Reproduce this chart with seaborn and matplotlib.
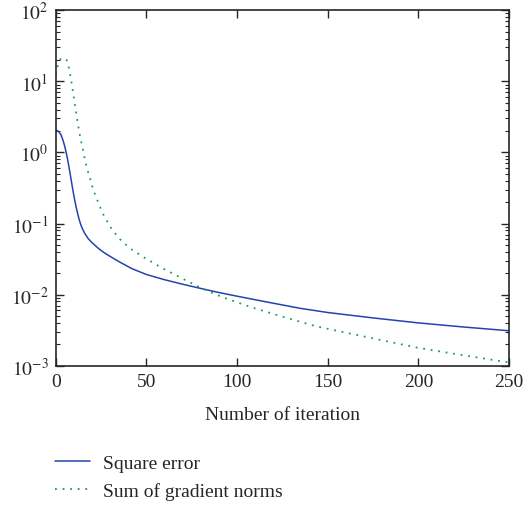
import numpy as np
import pandas as pd
import matplotlib
matplotlib.use("Agg")
import matplotlib.pyplot as plt
import seaborn as sns

# values (iteration, value)
sq_iter = [0, 1, 2, 3, 4, 5, 6, 7, 8, 9, 10, 11, 12, 13, 14, 15, 16, 18, 20, 23,
           26, 30, 35, 42, 50, 60, 70, 80, 90, 100, 115, 135, 150, 175, 200, 225, 250]
sq_err = [2.05, 2.02, 1.92, 1.75, 1.5, 1.22, 0.95, 0.70, 0.50, 0.35, 0.25, 0.185,
          0.142, 0.113, 0.094, 0.082, 0.073, 0.061, 0.054, 0.046, 0.040, 0.0345,
          0.0290, 0.0232, 0.0192, 0.0162, 0.0140, 0.0122, 0.0107, 0.0095, 0.0080,
          0.0064, 0.0056, 0.0047, 0.0040, 0.0035, 0.0031]

gn_iter = [0, 1, 2, 3, 4, 5, 6, 7, 8, 9, 10, 11, 12, 13, 14, 15, 16.5, 18, 19,
           20.7, 23.5, 26, 28, 31, 35.5, 41, 49, 58, 65, 73, 81.4, 91.5, 100, 109,
           125, 144, 170, 199, 225, 250]
gn_norm = [12.5, 16, 19.5, 21, 21.3, 21, 20, 17, 12.5, 8.8, 6.0, 4.0, 2.75, 1.95,
           1.45, 1.1, 0.72, 0.52, 0.43, 0.30, 0.197, 0.138, 0.112, 0.083, 0.060,
           0.0445, 0.033, 0.0242, 0.0195, 0.0153, 0.0120, 0.0093, 0.0078, 0.0065,
           0.0049, 0.00356, 0.00258, 0.0018, 0.0014, 0.00111]

df_sq = pd.DataFrame({"it": sq_iter, "val": sq_err})
df_gn = pd.DataFrame({"it": gn_iter, "val": gn_norm})

sns.set_style("ticks")
plt.rcParams["font.family"] = ["Liberation Serif", "DejaVu Serif"]
plt.rcParams["mathtext.fontset"] = "stix"
plt.rcParams["xtick.direction"] = "in"
plt.rcParams["ytick.direction"] = "in"

fig = plt.figure(figsize=(5.25, 5.1), dpi=100)
ax = fig.add_axes([0.106, 0.281, 0.8635, 0.697])

sns.lineplot(data=df_sq, x="it", y="val", ax=ax, color="#2443b0", lw=1.1,
             label="Square error")
sns.lineplot(data=df_gn, x="it", y="val", ax=ax, color="#1b9a5c", lw=1.3,
             linestyle=(0, (1, 3.2)), label="Sum of gradient norms")

ax.set_yscale("log")
ax.set_xlim(0, 250)
ax.set_ylim(1e-3, 1e2)
ax.set_xticks([0, 50, 100, 150, 200, 250])
ax.set_yticks([1e-3, 1e-2, 1e-1, 1e0, 1e1, 1e2])
ax.set_yticklabels([r"$10^{-3}$", r"$10^{-2}$", r"$10^{-1}$", r"$10^{0}$",
                    r"$10^{1}$", r"$10^{2}$"])
ax.tick_params(which="both", top=True, right=True, labelsize=14, pad=5)
ax.tick_params(which="major", length=6, width=1)
ax.tick_params(which="minor", length=3, width=0.8)
ax.minorticks_on()
ax.xaxis.set_minor_locator(matplotlib.ticker.NullLocator())
for s in ax.spines.values():
    s.set_linewidth(1.2)

ax.set_xlabel("Number of iteration", fontsize=14, labelpad=12)
ax.set_ylabel("")

h, l = ax.get_legend_handles_labels()
ax.get_legend().remove()
fig.legend(h, l, loc="upper left", bbox_to_anchor=(0.105, 0.108), frameon=False,
           fontsize=14, handlelength=1.8, handletextpad=0.67, labelspacing=0.52,
           borderaxespad=0, borderpad=0)

fig.savefig("out.png", dpi=100)
